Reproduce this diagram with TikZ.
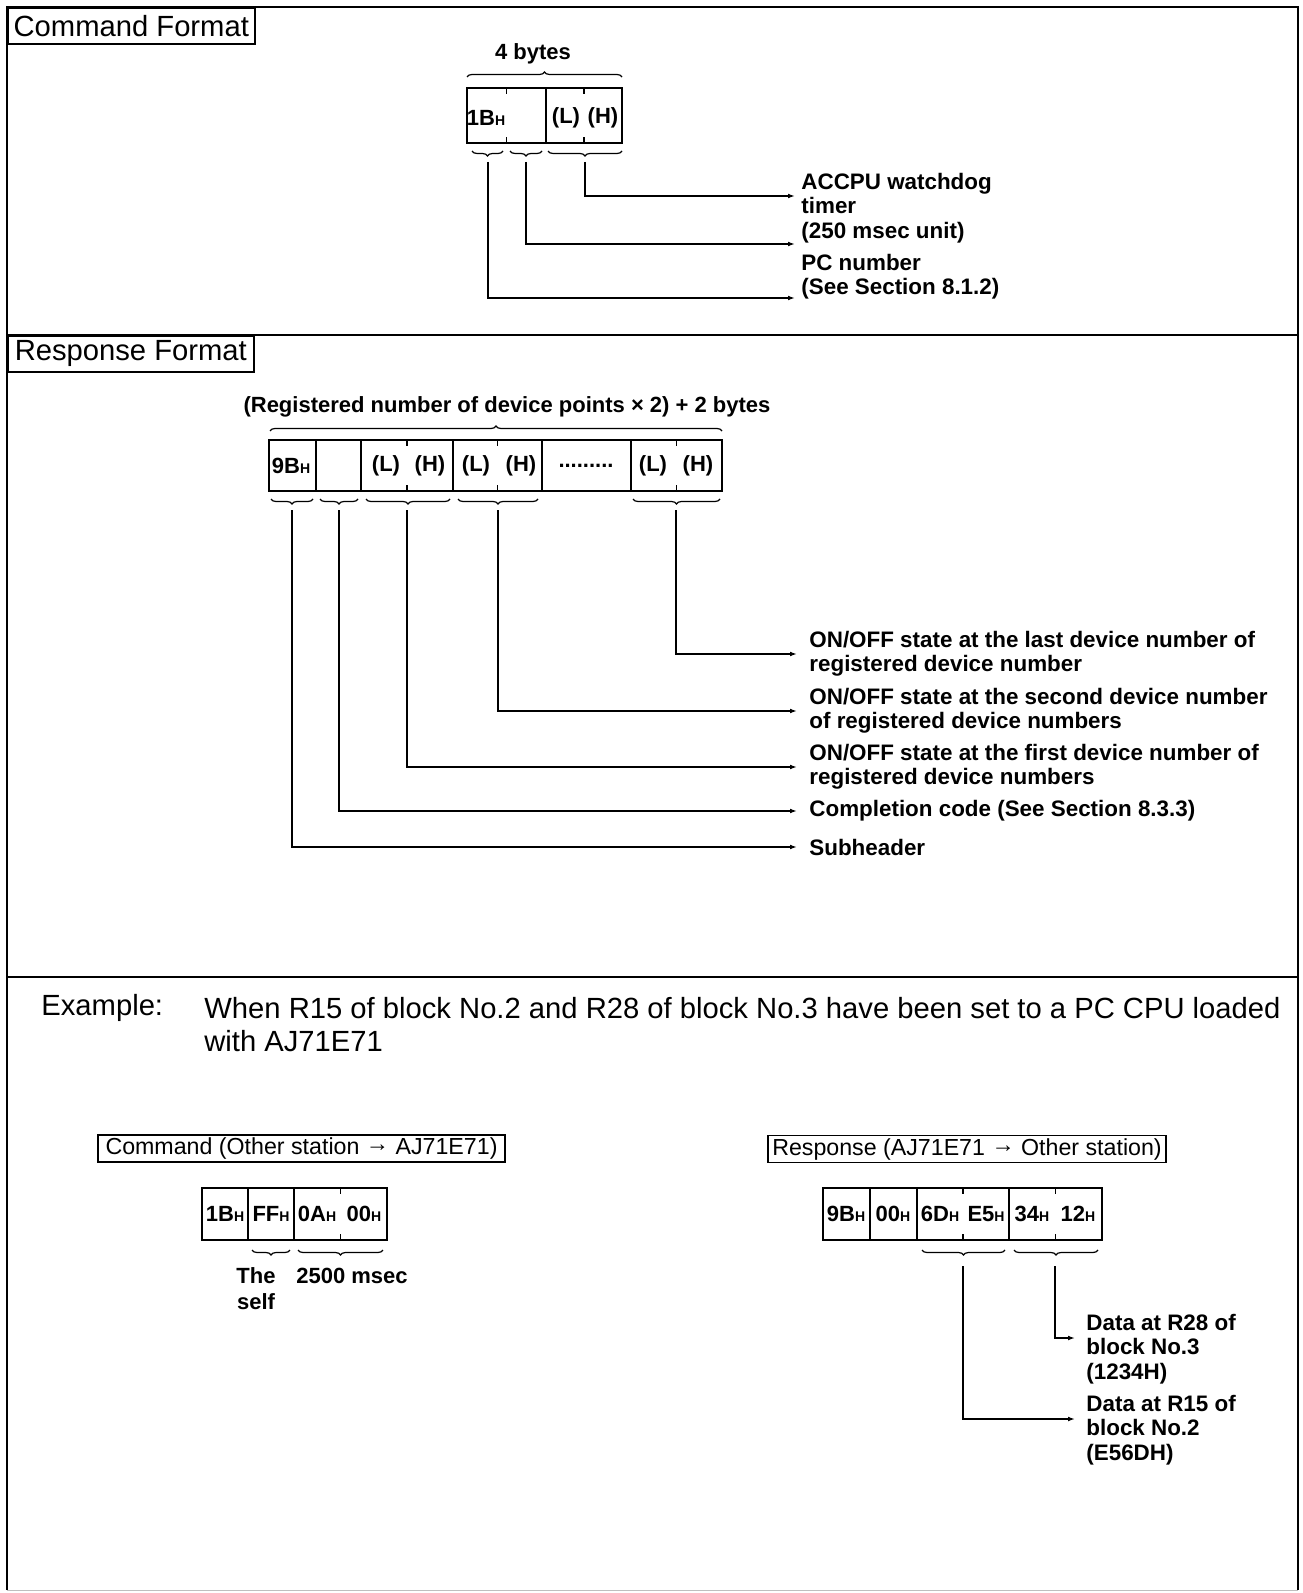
\documentclass[tikz,border=0pt]{standalone}
\usepackage{fontspec}
\setmainfont{Liberation Sans}
\usetikzlibrary{arrows.meta, positioning, decorations.pathreplacing}
\newcommand{\hexh}{{\fontsize{7pt}{7pt}\selectfont H}}

\begin{document}
\begin{tikzpicture}[x=0.5pt, y=-0.5pt,
  outerline/.style={line width=1.3pt},
  sect/.style={line width=1pt},
  hdr/.style={draw, line width=0.8pt, inner sep=0pt, font=\fontsize{14.6pt}{16pt}\selectfont},
  subhdr/.style={draw, line width=0.7pt, inner sep=0pt, font=\fontsize{11.6pt}{13pt}\selectfont},
  cell/.style={draw, line width=0.9pt, inner sep=0pt},
  halfdiv/.style={line width=0.9pt},
  byte/.style={inner sep=0pt, font=\fontsize{11pt}{13pt}\selectfont\bfseries},
  lbl/.style={anchor=west, align=left, inner ysep=0pt, font=\fontsize{11.2pt}{12.2pt}\selectfont\bfseries},
  big/.style={anchor=west, align=left, inner sep=0pt, font=\fontsize{14.6pt}{16.5pt}\selectfont},
  brc/.style={decorate, decoration={brace, amplitude=2.5pt}, line width=0.6pt},
  brcd/.style={decorate, decoration={brace, amplitude=2.5pt, mirror}, line width=0.6pt},
  arr/.style={-{Latex[length=3.5pt,width=2.4pt]}, line width=0.65pt}]

  \fill[white] (0,0) rectangle (1302,1593);
  \useasboundingbox (0,0) rectangle (1302,1593);
  \draw[outerline] (7,1590) -- (7,7) -- (1298,7) -- (1298,1590);
  \draw[gray!50, line width=0.5pt] (7,1590) -- (1298,1590);
  \draw[sect] (7,335) -- (1298,335);
  \draw[sect] (7,977) -- (1298,977);

  \node[hdr, anchor=north west, minimum width=123.5pt, minimum height=18pt] (cmdfmt) at (7,7) {Command Format};
  \node[hdr, anchor=north west, minimum width=123pt, minimum height=18pt] (resfmt) at (7,335) {Response Format};

  % Command format
  \node[byte] (fourb) at (533,54) {4 bytes};
  \draw[brc] (467,77) -- (622,77);
  \node[cell, minimum width=39.5pt, minimum height=27.5pt] (cg1) at (506.5,115.5) {};
  \node[cell, minimum width=38pt, minimum height=27.5pt] (cg2) at (584,115.5) {};
  \draw[halfdiv] (cg1.north) -- ++(0,7) (cg1.south) -- ++(0,-7);
  \draw[halfdiv] (cg2.north) -- ++(0,7) (cg2.south) -- ++(0,-7);
  \node[byte] (c1B) at (486,118) {1B\hexh};
  \node[byte] (cL) at (566,118) {(L)};
  \node[byte] (cH) at (603,118) {(H)};
  \draw[brcd] (472,151) -- (503,151);
  \draw[brcd] (510,151) -- (542,151);
  \draw[brcd] (548,151) -- (622,151);
  \coordinate (k1) at (488,162);
  \coordinate (k2) at (526,162);
  \coordinate (k3) at (585,162);
  \node[lbl, inner xsep=3pt] (accpu) at (795,208) {ACCPU watchdog\\timer\\(250 msec unit)};
  \node[lbl, inner xsep=3pt] (pcnum) at (795,277) {PC number\\(See Section 8.1.2)};
  \draw[arr] (k3) |- ([yshift=6pt]accpu.west);
  \draw[arr] (k2) |- ([yshift=16.5pt]pcnum.west);
  \draw[arr] (k1) |- ([yshift=-10.5pt]pcnum.west);

  % Response format
  \node[byte] (regpts) at (507,407) {(Registered number of device points × 2) + 2 bytes};
  \draw[brc] (270,431) -- (722,431);
  \node[cell, minimum width=23.5pt, minimum height=25.5pt] (rg1) at (292.5,465.5) {};
  \node[cell, minimum width=22.5pt, minimum height=25.5pt] (rg2) at (338.5,465.5) {};
  \node[cell, minimum width=46pt, minimum height=25.5pt] (rg3) at (407,465.5) {};
  \node[cell, minimum width=44.5pt, minimum height=25.5pt] (rg4) at (497.5,465.5) {};
  \node[cell, minimum width=44.5pt, minimum height=25.5pt] (rg5) at (586.5,465.5) {};
  \node[cell, minimum width=45.5pt, minimum height=25.5pt] (rg6) at (676.5,465.5) {};
  \foreach \g in {rg3,rg4,rg6}
    \draw[halfdiv] (\g.north) -- ++(0,7) (\g.south) -- ++(0,-7);
  \node[byte] (r9B) at (291,466) {9B\hexh};
  \node[byte] (rL1) at (386,466) {(L)};
  \node[byte] (rH1) at (430,466) {(H)};
  \node[byte] (rL2) at (476,466) {(L)};
  \node[byte] (rH2) at (521,466) {(H)};
  \node[byte] (rdots) at (586,466) {.........};
  \node[byte] (rL3) at (653,466) {(L)};
  \node[byte] (rH3) at (698,466) {(H)};
  \draw[brcd] (271,499) -- (313,499);
  \draw[brcd] (320,499) -- (358,499);
  \draw[brcd] (366,499) -- (450,499);
  \draw[brcd] (458,499) -- (538,499);
  \draw[brcd] (633,499) -- (720,499);
  \coordinate (t1) at (292,510);
  \coordinate (t2) at (339,510);
  \coordinate (t3) at (407,510);
  \coordinate (t4) at (498,510);
  \coordinate (t5) at (676,510);
  \node[lbl, inner xsep=6pt] (lastdev) at (797,654) {ON/OFF state at the last device number of\\registered device number};
  \node[lbl, inner xsep=6pt] (secdev) at (797,711) {ON/OFF state at the second device number\\of registered device numbers};
  \node[lbl, inner xsep=6pt] (firstdev) at (797,767) {ON/OFF state at the first device number of\\registered device numbers};
  \node[lbl, inner xsep=6pt] (compl) at (797,811) {Completion code (See Section 8.3.3)};
  \node[lbl, inner xsep=6pt] (subh) at (797,847) {Subheader};
  \draw[arr] (t5) |- (lastdev.west);
  \draw[arr] (t4) |- (secdev.west);
  \draw[arr] (t3) |- (firstdev.west);
  \draw[arr] (t2) |- (compl.west);
  \draw[arr] (t1) |- (subh.west);

  % Example
  \node[big] (exlbl) at (41,1008) {Example:};
  \node[big] (exdesc) at (204,1024.5) {When R15 of block No.2 and R28 of block No.3 have been set to a PC CPU loaded\\with AJ71E71};
  \node[subhdr, minimum width=203.5pt, minimum height=13.5pt] (excmd) at (301.5,1148.5) {Command (Other station \raisebox{0.12em}{→} AJ71E71)};
  \node[subhdr, minimum width=199pt, minimum height=13.5pt] (exres) at (967,1149) {Response (AJ71E71 \raisebox{0.12em}{→} Other station)};

  % Example command
  \node[cell, minimum width=23pt, minimum height=26pt] (ec1) at (225,1214) {};
  \node[cell, minimum width=23pt, minimum height=26pt] (ec2) at (271,1214) {};
  \node[cell, minimum width=46.5pt, minimum height=26pt] (ec3) at (340.5,1214) {};
  \draw[halfdiv] (ec3.north) -- ++(0,7) (ec3.south) -- ++(0,-7);
  \node[byte] (e1B) at (225,1214) {1B\hexh};
  \node[byte] (eFF) at (271,1214) {FF\hexh};
  \node[byte] (e0A) at (317,1214) {0A\hexh};
  \node[byte] (e00) at (364,1214) {00\hexh};
  \draw[brcd] (252,1250) -- (290,1250);
  \draw[brcd] (298,1250) -- (383,1250);
  \node[byte, align=center] (eself) at (256,1289) {The\\self};
  \node[byte] (emsec) at (352,1276) {2500 msec};

  % Example response
  \node[cell, minimum width=23.5pt, minimum height=26pt] (xr1) at (846.5,1214) {};
  \node[cell, minimum width=23.5pt, minimum height=26pt] (xr2) at (893.5,1214) {};
  \node[cell, minimum width=46pt, minimum height=26pt] (xr3) at (963,1214) {};
  \node[cell, minimum width=46.5pt, minimum height=26pt] (xr4) at (1055.5,1214) {};
  \draw[halfdiv] (xr3.north) -- ++(0,7) (xr3.south) -- ++(0,-7);
  \draw[halfdiv] (xr4.north) -- ++(0,7) (xr4.south) -- ++(0,-7);
  \node[byte] (x9B) at (846,1214) {9B\hexh};
  \node[byte] (x00) at (893,1214) {00\hexh};
  \node[byte] (x6D) at (940,1214) {6D\hexh};
  \node[byte] (xE5) at (986,1214) {E5\hexh};
  \node[byte] (x34) at (1032,1214) {34\hexh};
  \node[byte] (x12) at (1078,1214) {12\hexh};
  \draw[brcd] (922,1250) -- (1005,1250);
  \draw[brcd] (1014,1250) -- (1098,1250);
  \coordinate (x3tip) at (963,1266);
  \coordinate (x4tip) at (1055,1266);
  \node[lbl, inner xsep=5.5pt] (d28) at (1075,1349) {Data at R28 of\\block No.3\\(1234H)};
  \node[lbl, inner xsep=5.5pt] (d15) at (1075,1430) {Data at R15 of\\block No.2\\(E56DH)};
  \draw[arr] (x4tip) |- ([yshift=5.5pt]d28.west);
  \draw[arr] (x3tip) |- ([yshift=5.5pt]d15.west);
\end{tikzpicture}
\end{document}
